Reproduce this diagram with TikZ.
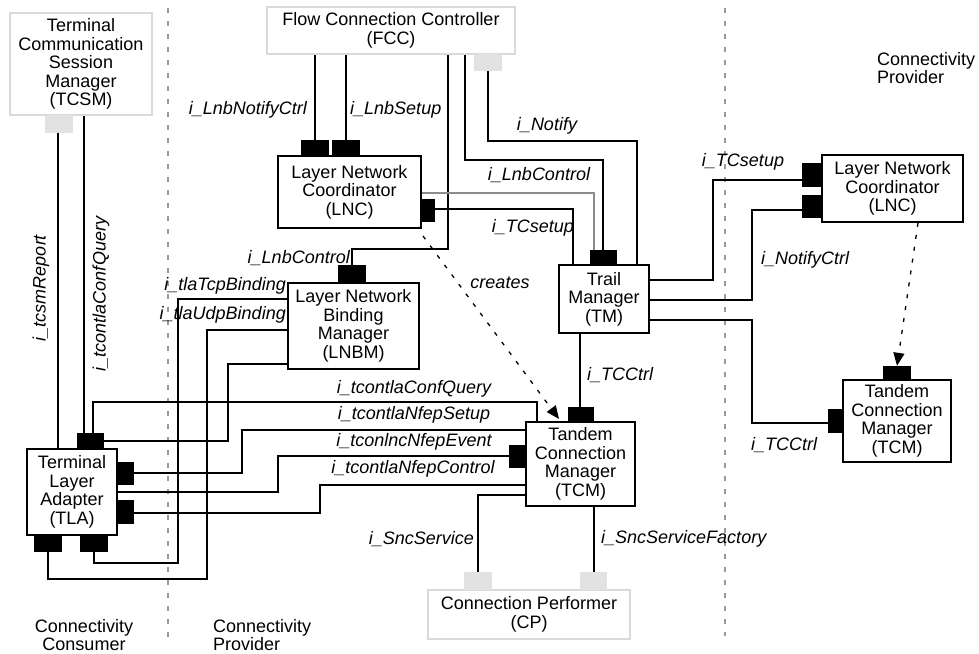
\documentclass[tikz,border=0pt]{standalone}
\usepackage{fontspec}
\setmainfont{Liberation Sans}
\usetikzlibrary{arrows.meta}
\definecolor{extborder}{HTML}{DADADA}
\definecolor{extport}{HTML}{E2E2E2}
\definecolor{divider}{HTML}{9A9A9A}
\definecolor{wiregray}{HTML}{8C8C8C}
\newcommand\diafont{\fontsize{18}{18.5}\selectfont}
\tikzset{
  comp/.style={draw=black, line width=2pt, fill=white, inner sep=0pt,
               align=center, font=\diafont},
  extcomp/.style={comp, draw=extborder},
  port/.style={fill=black, draw=none, inner sep=0pt},
  extportbox/.style={fill=extport, draw=none, inner sep=0pt},
  wire/.style={line width=2pt},
  graywire/.style={line width=2pt, draw=wiregray},
  iface/.style={font=\diafont\itshape, inner sep=0pt},
  region/.style={font=\diafont, inner sep=0pt, align=left},
  divline/.style={line width=1.8pt, draw=divider, dash pattern=on 5pt off 8pt},
  dep/.style={line width=1.3pt, dash pattern=on 4pt off 8pt,
              -{Triangle[length=13pt,width=11pt]}}
}
\begin{document}
\begin{tikzpicture}[x=1pt,y=-1pt]
  \useasboundingbox (0,0) rectangle (979,653);
  \fill[white] (0,0) rectangle (979,653);

  % domain dividers
  \draw[divline] (168,8) -- (168,640);
  \draw[divline] (725,8) -- (725,636);

  % components
  \node[extcomp, minimum width=142, minimum height=102] (TCSM) at (81,64)
    {Terminal\\Communication\\Session\\Manager\\(TCSM)};
  \node[extcomp, minimum width=248, minimum height=47] (FCC) at (391,30.5)
    {Flow Connection Controller\\(FCC)};
  \node[comp, minimum width=143, minimum height=72] (LNC) at (349.5,192)
    {Layer Network\\Coordinator\\(LNC)};
  \node[comp, minimum width=131, minimum height=86] (LNBM) at (353.5,326)
    {Layer Network\\Binding\\Manager\\(LNBM)};
  \node[comp, minimum width=90, minimum height=68] (TM) at (604,299)
    {Trail\\Manager\\(TM)};
  \node[comp, minimum width=141, minimum height=67] (LNCr) at (892.5,188.5)
    {Layer Network\\Coordinator\\(LNC)};
  \node[comp, minimum width=108, minimum height=82] (TCMr) at (897,421)
    {Tandem\\Connection\\Manager\\(TCM)};
  \node[comp, minimum width=109, minimum height=84] (TCM) at (580.5,464)
    {Tandem\\Connection\\Manager\\(TCM)};
  \node[comp, minimum width=90, minimum height=86] (TLA) at (72,492)
    {Terminal\\Layer\\Adapter\\(TLA)};
  \node[extcomp, minimum width=202, minimum height=49] (CP) at (529,614.5)
    {Connection Performer\\(CP)};

  % interface ports
  \node[extportbox, minimum width=28, minimum height=18] (TCSMp) at (59,124) {};
  \node[extportbox, minimum width=28, minimum height=17] (FCCp) at (488,62.5) {};
  \node[port, minimum width=28, minimum height=16] (LNCp1) at (315,148) {};
  \node[port, minimum width=28, minimum height=16] (LNCp2) at (346,148) {};
  \node[port, minimum width=14, minimum height=23] (LNCp3) at (427.5,210.5) {};
  \node[port, minimum width=28, minimum height=18] (LNBMp) at (352,274) {};
  \node[port, minimum width=27, minimum height=15] (TMp) at (603,257.5) {};
  \node[port, minimum width=20, minimum height=24] (LNCrp1) at (812,175) {};
  \node[port, minimum width=20, minimum height=23] (LNCrp2) at (812,206.5) {};
  \node[port, minimum width=28, minimum height=14] (TCMrpt) at (897,373) {};
  \node[port, minimum width=15, minimum height=24] (TCMrpl) at (835.5,421) {};
  \node[port, minimum width=26, minimum height=15] (TCMpt) at (580.5,414.5) {};
  \node[port, minimum width=17, minimum height=23] (TCMpl) at (517.5,456) {};
  \node[port, minimum width=27, minimum height=16] (TLApt) at (90.5,441) {};
  \node[port, minimum width=17, minimum height=23] (TLApr1) at (125.5,473.5) {};
  \node[port, minimum width=17, minimum height=24] (TLApr2) at (125.5,512) {};
  \node[port, minimum width=28, minimum height=17] (TLApb1) at (48,543.5) {};
  \node[port, minimum width=28, minimum height=17] (TLApb2) at (94,543.5) {};
  \node[extportbox, minimum width=28, minimum height=18] (CPp1) at (478,581) {};
  \node[extportbox, minimum width=27, minimum height=18] (CPp2) at (593.5,581) {};

  % TCSM to TLA
  \draw[wire] (58,0 |- TCSMp.south) -- (58,0 |- TLA.north);
  \draw[wire] (84,0 |- TCSM.south) -- (84,0 |- TLApt.north);
  \draw[wire] (93,0 |- TLApt.north) -- (93,402) -- (537,402) -- (537,0 |- TCM.north);

  % FCC to the coordinators and managers
  \draw[wire] (LNCp1.north |- FCC.south) -- (LNCp1.north);
  \draw[wire] (LNCp2.north |- FCC.south) -- (LNCp2.north);
  \draw[wire] (448,0 |- FCC.south) -- (448,249) -- (352,249) -- (LNBMp.north);
  \draw[wire] (465,0 |- FCC.south) -- (465,160) -- (603,160) -- (TMp.north);
  \draw[wire] (FCCp.south) -- (488,141) -- (637,141) -- (637,0 |- TM.north);

  % LNC to TM
  \draw[wire] (LNCp3.east |- 0,209) -- (573,209) -- (573,0 |- TM.north);
  \draw[graywire] (LNC.east |- 0,193) -- (594,193) -- (594,0 |- TMp.north);

  % TM to the right-hand domain and to TCM
  \draw[wire] (TM.east |- 0,280) -- (713,280) -- (713,180) -- (LNCrp1.west |- 0,180);
  \draw[wire] (TM.east |- 0,300) -- (752,300) -- (752,210) -- (LNCrp2.west |- 0,210);
  \draw[wire] (TM.east |- 0,320) -- (752,320) -- (752,423) -- (TCMrpl.west |- 0,423);
  \draw[wire] (580,0 |- TM.south) -- (580,0 |- TCMpt.north);

  % LNBM to TLA
  \draw[wire] (LNBM.west |- 0,299) -- (178,299) -- (178,563) -- (94,563) -- (TLApb2.south);
  \draw[wire] (LNBM.west |- 0,330) -- (207,330) -- (207,579) -- (48,579) -- (TLApb1.south);
  \draw[wire] (LNBM.west |- 0,364) -- (228,364) -- (228,441) -- (TLApt.east |- 0,441);

  % TCM to TLA
  \draw[wire] (TCM.west |- 0,430) -- (242,430) -- (242,473) -- (TLApr1.east |- 0,473);
  \draw[wire] (TCMpl.west) -- (278,456) -- (278,492) -- (TLA.east |- 0,492);
  \draw[wire] (TCM.west |- 0,485) -- (320,485) -- (320,513) -- (TLApr2.east |- 0,513);

  % TCM to CP
  \draw[wire] (TCM.west |- 0,495) -- (478,495) -- (CPp1.north);
  \draw[wire] (CPp2.north |- TCM.south) -- (CPp2.north);

  % creation dependencies
  \coordinate (crFrom) at (423,236);
  \coordinate (crTo) at (559,419);
  \draw[dep] (crFrom) -- (crTo);
  \draw[dep] (918,0 |- LNCr.south) -- (TCMrpt.north);

  % interface labels
  \node[iface, anchor=east] (lA) at (307,110) {i\_LnbNotifyCtrl};
  \node[iface, anchor=west] (lB) at (350,110) {i\_LnbSetup};
  \node[iface] (lC) at (547,126) {i\_Notify};
  \node[iface] (lD) at (539,175) {i\_LnbControl};
  \node[iface, anchor=east] (lE) at (574,228) {i\_TCsetup};
  \node[iface] (lF) at (500,283) {creates};
  \node[iface, anchor=east] (lG) at (350,258) {i\_LnbControl};
  \node[iface, anchor=east] (lH) at (286,286) {i\_tlaTcpBinding};
  \node[iface, anchor=east] (lI) at (286,315) {i\_tlaUdpBinding};
  \node[iface, rotate=90] (lJ) at (41,288) {i\_tcsmReport};
  \node[iface, rotate=90] (lK) at (101,294) {i\_tcontlaConfQuery};
  \node[iface] (lL) at (414,389) {i\_tcontlaConfQuery};
  \node[iface] (lM) at (414,415) {i\_tcontlaNfepSetup};
  \node[iface] (lN) at (414,442) {i\_tconlncNfepEvent};
  \node[iface] (lO) at (413,469) {i\_tcontlaNfepControl};
  \node[iface, anchor=west] (lP) at (587,375) {i\_TCCtrl};
  \node[iface, anchor=east] (lQ) at (474,539) {i\_SncService};
  \node[iface, anchor=west] (lR) at (601,539) {i\_SncServiceFactory};
  \node[iface] (lS) at (743,162) {i\_TCsetup};
  \node[iface] (lT) at (805,260) {i\_NotifyCtrl};
  \node[iface] (lU) at (784,445) {i\_TCCtrl};

  % domain names
  \node[region, align=center] (dCons) at (84,635) {Connectivity\\Consumer};
  \node[region, anchor=west] (dProvL) at (213,635) {Connectivity\\Provider};
  \node[region, anchor=west] (dProvR) at (877,68) {Connectivity\\Provider};
\end{tikzpicture}
\end{document}
